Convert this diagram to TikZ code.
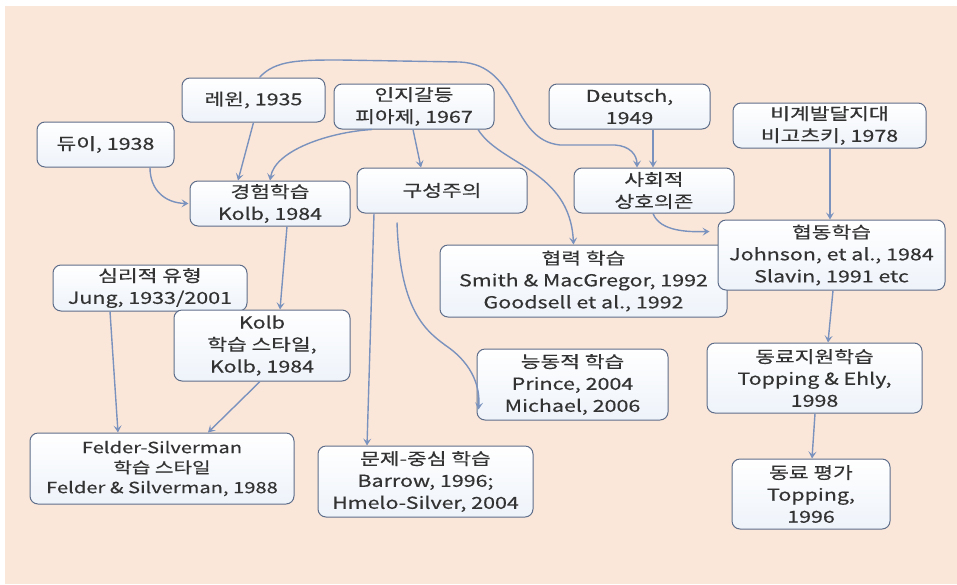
\documentclass[tikz,border=0pt]{standalone}
\usepackage{fontspec}
\setmainfont{Noto Sans CJK KR}[FakeStretch=1.3,FakeBold=0.4]
\usetikzlibrary{arrows.meta,calc}
\definecolor{bgpeach}{HTML}{FBE7D9}
\definecolor{boxline}{HTML}{5E6E8A}
\definecolor{boxbot}{HTML}{EEF3FA}
\definecolor{arrowc}{HTML}{7A92BE}
\definecolor{txt}{HTML}{333333}
\tikzset{
  box/.style={draw=boxline, line width=1pt, rounded corners=8pt, top color=white, bottom color=boxbot,
    align=center, inner sep=0pt, text=txt, font=\fontsize{16.5}{22}\selectfont},
  smallbox/.style={box, font=\fontsize{15.5}{20}\selectfont},
  conn/.style={draw=arrowc, line width=1.4pt, -{Stealth[length=7pt,width=8pt,inset=3pt]}},
}
\begin{document}
\begin{tikzpicture}[x=1pt,y=-1pt]
\useasboundingbox (0,0) rectangle (957,584);
\fill[bgpeach] (5,6) rectangle (957,584);

\node[box, minimum width=143pt, minimum height=44pt] (lewin) at (253.5,100) {레윈, 1935};
\node[box, minimum width=160pt, minimum height=45pt] (piaget) at (414,106.5) {인지갈등\\피아제, 1967};
\node[box, minimum width=137pt, minimum height=45pt] (dewey) at (105.5,144.5) {듀이, 1938};
\node[box, minimum width=160pt, minimum height=45pt] (exper) at (270,203.5) {경험학습\\Kolb, 1984};
\node[box, minimum width=170pt, minimum height=45pt] (constr) at (442,190.5) {구성주의};
\node[box, minimum width=161pt, minimum height=45pt] (deutsch) at (629.5,106.5) {Deutsch,\\1949};
\node[box, minimum width=193pt, minimum height=45pt] (vyg) at (829.5,125.5) {비계발달지대\\비고츠키, 1978};
\node[box, minimum width=160pt, minimum height=45pt] (social) at (654,190.5) {사회적\\상호의존};
\node[box, minimum width=287pt, minimum height=72pt] (collab) at (583.5,281) {협력 학습\\Smith \& MacGregor, 1992\\Goodsell et al., 1992};
\node[box, minimum width=227pt, minimum height=70pt] (coop) at (831.5,255) {협동학습\\Johnson, et al., 1984\\Slavin, 1991 etc};
\node[box, minimum width=194pt, minimum height=46pt] (jung) at (150,288) {심리적 유형\\Jung, 1933/2001};
\node[box, minimum width=176pt, minimum height=71pt] (kolbst) at (262,345.5) {Kolb\\학습 스타일,\\Kolb, 1984};
\node[box, minimum width=191pt, minimum height=71pt] (active) at (572.5,384.5) {능동적 학습\\Prince, 2004\\Michael, 2006};
\node[box, minimum width=215pt, minimum height=70pt] (peer) at (814.5,378) {동료지원학습\\Topping \& Ehly,\\1998};
\node[smallbox, minimum width=264pt, minimum height=71pt] (felder) at (162,468.5) {Felder-Silverman\\학습 스타일\\Felder \& Silverman, 1988};
\node[box, minimum width=215pt, minimum height=71pt] (pbl) at (425.5,481.5) {문제-중심 학습\\Barrow, 1996;\\Hmelo-Silver, 2004};
\node[box, minimum width=158pt, minimum height=70pt] (peereval) at (811,494) {동료 평가\\Topping,\\1996};

% connectors
\draw[conn] (lewin.south) -- ($(exper.north)+(-32,0)$);
\draw[conn] ($(piaget.south)+(-42,0)$) .. controls (330,132) and (275,150) .. (exper.north);
\draw[conn] ($(piaget.south)+(-1,0)$) -- ($(constr.north)+(-21,0)$);
\draw[conn] ($(piaget.south)+(64,0)$) .. controls (500,165) and (570,170) .. ($(collab.north)+(-10,0)$);
\draw[conn] ($(lewin.north)+(6,0)$) .. controls (275,60) and (300,60) .. (340,60) -- (460,62)
   .. controls (520,65) and (510,140) .. (560,145) -- (615,145) .. controls (630,146) and (637,155) .. ($(social.north)+(-17,0)$);
\draw[conn] ($(dewey.south)+(44.5,0)$) .. controls (150,190) and (165,203) .. ($(exper.west)+(-1,0)$);
\draw[conn] ($(deutsch.south)+(23.5,0)$) -- ($(social.north)+(-1,0)$);
\draw[conn] ($(vyg.south)+(0.5,0)$) -- ($(coop.north)+(-1.5,0)$);
\draw[conn] ($(social.south)+(-1,0)$) .. controls (660,232) and (690,232) .. ($(coop.north west)+(-8,12)$);
\draw[conn] ($(exper.south)+(17,0)$) -- ($(kolbst.north)+(18,0)$);
\draw[conn] ($(jung.south)+(-40,0)$) -- ($(felder.north)+(-44,0)$);
\draw[conn] ($(kolbst.south)+(-2,0)$) -- ($(felder.north)+(46,0)$);
\draw[conn] ($(constr.south)+(-68,0)$) -- ($(pbl.north)+(-58.5,0)$);
\draw[conn] ($(constr.south)+(-45,9)$) .. controls (400,310) and (425,330) .. (445,345)
   .. controls (475,365) and (480,390) .. ($(active.west)+(2,25)$);
\draw[conn] ($(coop.south)+(1.5,0)$) -- ($(peer.north)+(13.5,0)$);
\draw[conn] ($(peer.south)+(0.5,0)$) -- ($(peereval.north)+(1,0)$);
\end{tikzpicture}
\end{document}
